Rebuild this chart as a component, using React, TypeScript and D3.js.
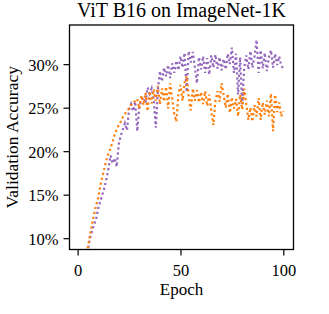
import * as d3 from "d3";
import React, { useEffect, useRef } from "react";

// epochs 1..100
const epochs = d3.range(1, 101);

// validation accuracy (%)
const purpleAcc = [
  1.5, 3.5, 5.2, 7.0, 8.6, 10.0, 10.8, 11.6, 12.2, 13.4,
  14.2, 15.0, 15.8, 16.8, 18.0, 19.5, 18.6, 19.2, 18.2, 20.8,
  21.8, 22.5, 23.2, 22.4, 24.8, 25.4, 24.6, 25.7, 22.3, 25.2,
  25.9, 26.2, 25.5, 27.3, 26.6, 27.2, 26.0, 22.7, 27.0, 29.2,
  28.0, 29.6, 28.6, 29.9, 28.4, 30.1, 29.0, 30.4, 29.3, 30.9,
  29.6, 31.3, 26.8, 31.5, 30.2, 31.4, 29.6, 27.8, 30.8, 29.4,
  30.9, 29.0, 30.7, 28.8, 31.0, 29.6, 31.1, 29.5, 30.8, 29.3,
  30.6, 29.4, 31.2, 30.0, 31.9, 29.0, 31.2, 26.5, 30.8, 25.4,
  29.6, 31.0, 29.4, 31.5, 29.6, 30.9, 32.8, 29.0, 31.6, 29.5,
  31.3, 29.2, 30.8, 31.6, 29.6, 31.2, 29.9, 30.9, 29.8, 29.5,
];

const orangeAcc = [
  2.0, 4.0, 5.5, 7.5, 9.0, 10.3, 11.6, 12.8, 13.8, 14.6,
  16.0, 17.0, 18.0, 19.0, 19.8, 20.3, 21.1, 21.9, 22.5, 23.0,
  23.4, 23.9, 24.3, 24.6, 24.9, 25.3, 25.5, 25.8, 26.0, 24.9,
  26.4, 25.3, 26.7, 24.6, 26.9, 25.5, 27.1, 25.8, 27.5, 25.4,
  27.2, 25.7, 27.4, 24.9, 27.8, 26.0, 24.2, 23.4, 26.5, 27.6,
  25.8, 27.9, 28.6, 26.3, 24.7, 27.2, 25.8, 27.0, 25.6, 26.8,
  25.4, 26.9, 25.2, 26.5, 24.6, 23.0, 25.8, 26.9, 25.7, 27.8,
  26.4, 25.0, 26.6, 24.4, 26.2, 24.9, 26.0, 24.0, 26.5, 24.8,
  27.2, 25.4, 23.6, 25.0, 23.4, 25.3, 24.0, 26.1, 23.6, 25.6,
  24.2, 25.8, 24.0, 26.6, 22.3, 26.5, 24.5, 25.6, 24.0, 24.6,
];

const yTicks = [10, 15, 20, 25, 30];
const xTicks = [0, 50, 100];

const series = [
  { name: "purple", values: purpleAcc, color: "#9467bd" },
  { name: "orange", values: orangeAcc, color: "#ff7f0e" },
];

export default function App() {
  const svgRef = useRef<SVGSVGElement>(null);
  useEffect(() => {
    const width = 329;
    const height = 314;
    const m = { left: 69.5, right: 293.5, top: 25, bottom: 249.5 };
    const font = "'Liberation Serif', 'Times New Roman', serif";

    const svg = d3.select(svgRef.current).attr("width", width).attr("height", height);
    svg.selectAll("*").remove();

    const xScale = d3.scaleLinear().domain([-3.95, 104.95]).range([m.left, m.right]);
    const yScale = d3.scaleLinear().domain([8.7, 34.5]).range([m.bottom, m.top]);

    svg
      .append("defs")
      .append("clipPath")
      .attr("id", "plot-clip")
      .append("rect")
      .attr("x", m.left)
      .attr("y", m.top)
      .attr("width", m.right - m.left)
      .attr("height", m.bottom - m.top);

    const line = d3
      .line<number>()
      .x((d, i) => xScale(epochs[i]))
      .y((d) => yScale(d));

    //the two dotted curves
    svg
      .append("g")
      .attr("clip-path", "url(#plot-clip)")
      .selectAll("path")
      .data(series)
      .join("path")
      .attr("d", (s) => line(s.values))
      .attr("fill", "none")
      .attr("stroke", (s) => s.color)
      .attr("stroke-width", 2.2)
      .attr("stroke-dasharray", "2.2,2.8");

    //axes
    const xAxis = d3.axisBottom(xScale).tickValues(xTicks).tickSize(6).tickPadding(5);
    const yAxis = d3
      .axisLeft(yScale)
      .tickValues(yTicks)
      .tickSize(6)
      .tickPadding(5)
      .tickFormat((d) => `${d}%`);

    const gx = svg.append("g").attr("transform", `translate(0,${m.bottom})`).call(xAxis);
    const gy = svg.append("g").attr("transform", `translate(${m.left},0)`).call(yAxis);
    [gx, gy].forEach((g) => {
      g.select(".domain").remove();
      g.selectAll("line").attr("stroke", "#000").attr("stroke-width", 1.2);
      g.selectAll("text")
        .attr("fill", "#000")
        .style("font-family", font)
        .style("font-size", "16.5px");
    });
    gx.selectAll("text").attr("dy", "0.95em");
    gy.selectAll("text").attr("dy", "0.36em");

    //frame
    svg
      .append("rect")
      .attr("x", m.left)
      .attr("y", m.top)
      .attr("width", m.right - m.left)
      .attr("height", m.bottom - m.top)
      .attr("fill", "none")
      .attr("stroke", "#000")
      .attr("stroke-width", 1.3);

    //labels
    svg
      .append("text")
      .attr("x", (m.left + m.right) / 2)
      .attr("y", 17)
      .attr("text-anchor", "middle")
      .style("font-family", font)
      .style("font-size", "20px")
      .text("ViT B16 on ImageNet-1K");
    svg
      .append("text")
      .attr("x", (m.left + m.right) / 2)
      .attr("y", 295)
      .attr("text-anchor", "middle")
      .style("font-family", font)
      .style("font-size", "17px")
      .text("Epoch");
    svg
      .append("text")
      .attr("transform", `translate(18,${(m.top + m.bottom) / 2}) rotate(-90)`)
      .attr("text-anchor", "middle")
      .style("font-family", font)
      .style("font-size", "17.5px")
      .text("Validation Accuracy");
  }, []);

  return <svg ref={svgRef} style={{ position: "absolute", left: 0, top: 0 }}></svg>;
}
